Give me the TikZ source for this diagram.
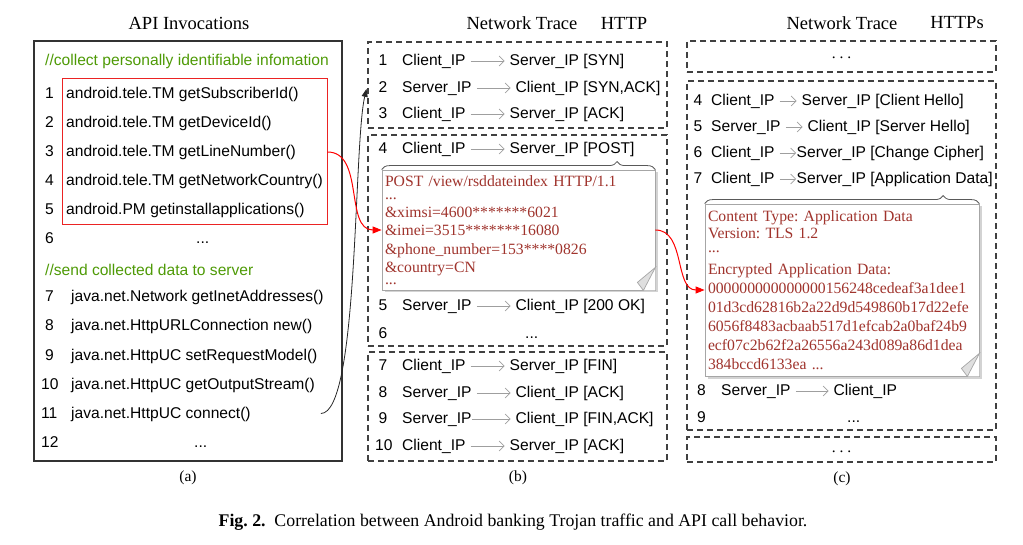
\documentclass[tikz,border=0pt]{standalone}
\usepackage{fontspec}
\setmainfont{Liberation Serif}
\setsansfont{Liberation Sans}
\usetikzlibrary{arrows.meta, positioning, calc, shadows, decorations.pathreplacing}
\definecolor{codegreen}{RGB}{78,154,6}
\definecolor{notered}{RGB}{160,52,45}
\definecolor{boxred}{RGB}{235,35,35}
\frenchspacing

\begin{document}
\begin{tikzpicture}[
    x=1pt, y=-1pt,
    code/.style={font=\sffamily\fontsize{15.6}{18}\selectfont, inner sep=0pt,
                 text height=11.5pt, text depth=2.5pt, anchor=base west},
    comment/.style={code, text=codegreen},
    title/.style={font=\fontsize{18.5}{22}\selectfont, inner sep=0pt},
    sublabel/.style={font=\fontsize{15.5}{18}\selectfont, inner sep=0pt},
    apibox/.style={draw=black!80, line width=1.2pt, minimum width=308pt, minimum height=420pt},
    redbox/.style={draw=boxred, line width=1pt, minimum width=265pt, minimum height=146pt},
    tracebox/.style={draw=black!75, line width=1.2pt, dash pattern=on 6pt off 4pt,
                     minimum width=299pt},
    dotsbox/.style={tracebox, minimum width=309pt, font=\fontsize{15.5}{18}\selectfont,
                    text height=5pt, text depth=0pt},
    notebox/.style={draw=gray!70, fill=white, line width=0.8pt, text=notered, align=left,
                    inner xsep=3pt, font=\fontsize{15.7}{18.5}\selectfont,
                    drop shadow={shadow xshift=2.5pt, shadow yshift=-2.5pt, opacity=0.35}},
    fold/.style={draw=gray!70, fill=gray!25, line width=0.7pt},
    packet/.style={draw=gray!75, line width=0.7pt, shorten <=5pt, shorten >=5pt,
                   -{Straight Barb[length=5pt, width=10pt]}},
    brace/.style={draw=black!65, line width=0.8pt, decorate,
                  decoration={brace, amplitude=8pt, aspect=#1}},
    leak/.style={draw=red, line width=1pt, -{Triangle[length=9pt, width=7pt]}},
    flow/.style={draw=black!85, line width=0.8pt, -{Triangle[length=8pt, width=6pt]}}
]
\useasboundingbox (0,0) rectangle (1023,545);

% (a) API invocations
\node[title] (apititle) at (189,23) {API Invocations};
\node[apibox] (api) at (188,251) {};
\node[comment] (collectnote) at (45,65.5) {//collect personally identifiable infomation};
\node[redbox] (collect) at (194.5,152) {};
\node[code] (n1) at (45,99) {1};
\node[code] (api1) at (66,99) {android.tele.TM getSubscriberId()};
\node[code] (n2) at (45,128) {2};
\node[code] (api2) at (66,128) {android.tele.TM getDeviceId()};
\node[code] (n3) at (45,157) {3};
\node[code] (api3) at (66,157) {android.tele.TM getLineNumber()};
\node[code] (n4) at (45,186) {4};
\node[code] (api4) at (66,186) {android.tele.TM getNetworkCountry()};
\node[code] (n5) at (45,215) {5};
\node[code] (api5) at (66,215) {android.PM getinstallapplications()};
\node[code] (n6) at (45,244) {6};
\node[code] (api6) at (196,244) {...};
\node[comment] (sendnote) at (45,275.5) {//send collected data to server};
\node[code] (n7) at (45,302) {7};
\node[code] (api7) at (71,302) {java.net.Network getInetAddresses()};
\node[code] (n8) at (45,331) {8};
\node[code] (api8) at (71,331) {java.net.HttpURLConnection new()};
\node[code] (n9) at (45,360) {9};
\node[code] (api9) at (71,360) {java.net.HttpUC setRequestModel()};
\node[code] (n10) at (41,389) {10};
\node[code] (api10) at (71,389) {java.net.HttpUC getOutputStream()};
\node[code] (n11) at (41,418) {11};
\node[code] (api11) at (71,418) {java.net.HttpUC connect()};
\node[code] (n12) at (41,447) {12};
\node[code] (api12) at (194,447) {...};
\node[sublabel] (labela) at (188,478) {(a)};

% (b) HTTP trace
\node[title] (httptitle) at (522,23) {Network Trace};
\node[title] (httpname) at (624,23) {HTTP};
\node[tracebox, minimum height=86pt] (handshake) at (517.5,85) {};
\node[tracebox, minimum height=211pt] (request) at (517.5,240.5) {};
\node[tracebox, minimum height=109pt] (teardown) at (517.5,406.5) {};

\node[code] (t1num) at (378.5,65.5) {1};
\node[code] (t1src) at (402,65.5) {Client\_IP};
\node[code] (t1dst) at (509.5,65.5) {Server\_IP [SYN]};
\node[code] (t2num) at (378.5,92.5) {2};
\node[code] (t2src) at (402,92.5) {Server\_IP};
\node[code] (t2dst) at (515.5,92.5) {Client\_IP [SYN,ACK]};
\node[code] (t3num) at (378.5,118.5) {3};
\node[code] (t3src) at (402,118.5) {Client\_IP};
\node[code] (t3dst) at (509.5,118.5) {Server\_IP [ACK]};
\node[code] (t4num) at (378.5,153.5) {4};
\node[code] (t4src) at (402,153.5) {Client\_IP};
\node[code] (t4dst) at (509.5,153.5) {Server\_IP [POST]};
\node[code] (t5num) at (378.5,310.5) {5};
\node[code] (t5src) at (402,310.5) {Server\_IP};
\node[code] (t5dst) at (515.5,310.5) {Client\_IP [200 OK]};
\node[code] (t6num) at (378.5,338.5) {6};
\node[code] (t6dots) at (525,338.5) {...};
\node[code] (t7num) at (378.5,370.5) {7};
\node[code] (t7src) at (402,370.5) {Client\_IP};
\node[code] (t7dst) at (509.5,370.5) {Server\_IP [FIN]};
\node[code] (t8num) at (378.5,397.5) {8};
\node[code] (t8src) at (402,397.5) {Server\_IP};
\node[code] (t8dst) at (515.5,397.5) {Client\_IP [ACK]};
\node[code] (t9num) at (378.5,423.5) {9};
\node[code] (t9src) at (402,423.5) {Server\_IP};
\node[code] (t9dst) at (515.5,423.5) {Client\_IP [FIN,ACK]};
\node[code] (t10num) at (375,450.5) {10};
\node[code] (t10src) at (402,450.5) {Client\_IP};
\node[code] (t10dst) at (509.5,450.5) {Server\_IP [ACK]};
\node[sublabel] (labelb) at (518,478) {(b)};

\draw[packet] (t1src) -- (t1dst);
\draw[packet] (t2src) -- (t2dst);
\draw[packet] (t3src) -- (t3dst);
\draw[packet] (t4src) -- (t4dst);
\draw[packet] (t5src) -- (t5dst);
\draw[packet] (t7src) -- (t7dst);
\draw[packet] (t8src) -- (t8dst);
\draw[packet, shorten <=0pt] (t9src) -- (t9dst);
\draw[packet] (t10src) -- (t10dst);

\node[notebox, minimum width=273pt, minimum height=120pt, text width=267pt] (postnote)
    at (518.5,230) {POST /view/rsddateindex HTTP/1.1\\[-5.5pt]
    ...\\[-1pt]
    \&ximsi=4600*******6021\\
    \&imei=3515*******16080\\
    \&phone\_number=153****0826\\
    \&country=CN\\[-7pt]
    ...};
\fill[white] ($(postnote.south east)+(0,-23)$) -- (postnote.south east)
    -- ($(postnote.south east)+(-12,0)$) -- cycle;
\filldraw[fold] ($(postnote.south east)+(0,-23)$) -- ($(postnote.south east)+(-18,-8)$)
    -- ($(postnote.south east)+(-12,0)$) -- cycle;
\draw[brace=0.86] (postnote.north west) -- (postnote.north east);

% (c) HTTPs trace
\node[title] (tlstitle) at (842,23) {Network Trace};
\node[title] (tlsname) at (957,23) {HTTPs};
\node[dotsbox, minimum height=31pt] (earlier) at (841.5,56.5) {. . .};
\node[tracebox, minimum width=309pt, minimum height=349pt] (tls) at (841.5,255.5) {};
\node[dotsbox, minimum height=25pt] (later) at (841.5,449.5) {. . .};

\node[code] (s4num) at (693.5,105.5) {4};
\node[code] (s4src) at (711,105.5) {Client\_IP};
\node[code] (s4dst) at (801.5,105.5) {Server\_IP [Client Hello]};
\node[code] (s5num) at (693.5,131.5) {5};
\node[code] (s5src) at (711,131.5) {Server\_IP};
\node[code] (s5dst) at (807.5,131.5) {Client\_IP [Server Hello]};
\node[code] (s6num) at (693.5,157.5) {6};
\node[code] (s6src) at (711,157.5) {Client\_IP};
\node[code] (s6dst) at (796.5,157.5) {Server\_IP [Change Cipher]};
\node[code] (s7num) at (693.5,183.5) {7};
\node[code] (s7src) at (711,183.5) {Client\_IP};
\node[code] (s7dst) at (796.5,183.5) {Server\_IP [Application Data]};
\node[code] (s8num) at (697,395.5) {8};
\node[code] (s8src) at (721,395.5) {Server\_IP};
\node[code] (s8dst) at (833.5,395.5) {Client\_IP};
\node[code] (s9num) at (697,422.5) {9};
\node[code] (s9dots) at (847,422.5) {...};
\node[sublabel] (labelc) at (842,479) {(c)};

\draw[packet] (s4src) -- (s4dst);
\draw[packet] (s5src) -- (s5dst);
\draw[packet, shorten >=0.5pt] (s6src) -- (s6dst);
\draw[packet, shorten >=0.5pt] (s7src) -- (s7dst);
\draw[packet] (s8src) -- (s8dst);

\node[notebox, minimum width=274pt, minimum height=172pt, text width=268pt,
      font=\fontsize{15.7}{19}\selectfont] (tlsnote)
    at (842,290) {Content Type: Application Data\\[-2pt]
    Version: TLS 1.2\\[-5.5pt]
    ...\\[3pt]
    Encrypted Application Data:\\
    000000000000000156248cedeaf3a1dee1\\
    01d3cd62816b2a22d9d549860b17d22efe\\
    6056f8483acbaab517d1efcab2a0baf24b9\\
    ecf07c2b62f2a26556a243d089a86d1dea\\
    384bccd6133ea ...};
\fill[white] ($(tlsnote.south east)+(0,-23)$) -- (tlsnote.south east)
    -- ($(tlsnote.south east)+(-12,0)$) -- cycle;
\filldraw[fold] ($(tlsnote.south east)+(0,-23)$) -- ($(tlsnote.south east)+(-18,-8)$)
    -- ($(tlsnote.south east)+(-12,0)$) -- cycle;
\draw[brace=0.868] (tlsnote.north west) -- (tlsnote.north east);

% connectors
\coordinate[right=70pt of api11] (sendpt);
\draw[flow, shorten >=4pt] (sendpt) .. controls +(38,0) and +(-14,60) .. (handshake.west);
\draw[leak] (collect.east) to[out=0, in=180] (postnote.west);
\draw[leak] (postnote.east) to[out=0, in=180] (tlsnote.west);

\node[font=\fontsize{17.8}{21}\selectfont, inner sep=0pt] (caption) at (513,522)
    {\textbf{Fig. 2.}\enspace Correlation between Android banking Trojan traffic and API call behavior.};
\end{tikzpicture}
\end{document}
